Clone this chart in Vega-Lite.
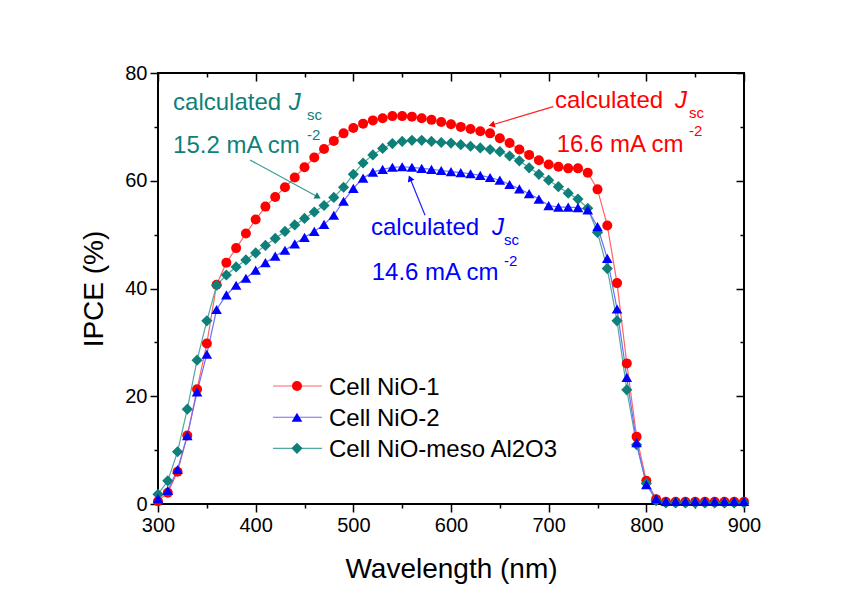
{
  "$schema": "https://vega.github.io/schema/vega-lite/v6.json",
  "width": 586,
  "height": 431,
  "autosize": {"type": "none"},
  "padding": {"left": 158, "top": 73, "right": 105, "bottom": 94},
  "background": "white",
  "config": {
    "font": "Liberation Sans",
    "view": {"stroke": "black", "strokeWidth": 2},
    "axis": {"grid": false, "domain": false, "tickColor": "black", "tickWidth": 1.5, "labelColor": "black", "labelFont": "Liberation Sans", "titleFont": "Liberation Sans", "titleColor": "black", "titleFontWeight": "normal"}
  },
  "datasets": {
    "ipce": [
      {"wavelength":300,"series":"Cell NiO-1","ipce":0.5},{"wavelength":310,"series":"Cell NiO-1","ipce":2.1},{"wavelength":320,"series":"Cell NiO-1","ipce":6.0},{"wavelength":330,"series":"Cell NiO-1","ipce":12.7},{"wavelength":340,"series":"Cell NiO-1","ipce":21.3},{"wavelength":350,"series":"Cell NiO-1","ipce":29.8},{"wavelength":360,"series":"Cell NiO-1","ipce":40.7},{"wavelength":370,"series":"Cell NiO-1","ipce":44.8},{"wavelength":380,"series":"Cell NiO-1","ipce":47.5},{"wavelength":390,"series":"Cell NiO-1","ipce":50.2},
      {"wavelength":400,"series":"Cell NiO-1","ipce":52.8},{"wavelength":410,"series":"Cell NiO-1","ipce":55.2},{"wavelength":420,"series":"Cell NiO-1","ipce":57.0},{"wavelength":430,"series":"Cell NiO-1","ipce":58.8},{"wavelength":440,"series":"Cell NiO-1","ipce":60.6},{"wavelength":450,"series":"Cell NiO-1","ipce":62.5},{"wavelength":460,"series":"Cell NiO-1","ipce":64.3},{"wavelength":470,"series":"Cell NiO-1","ipce":65.9},{"wavelength":480,"series":"Cell NiO-1","ipce":67.4},{"wavelength":490,"series":"Cell NiO-1","ipce":68.8},
      {"wavelength":500,"series":"Cell NiO-1","ipce":69.8},{"wavelength":510,"series":"Cell NiO-1","ipce":70.6},{"wavelength":520,"series":"Cell NiO-1","ipce":71.2},{"wavelength":530,"series":"Cell NiO-1","ipce":71.6},{"wavelength":540,"series":"Cell NiO-1","ipce":72.0},{"wavelength":550,"series":"Cell NiO-1","ipce":72.0},{"wavelength":560,"series":"Cell NiO-1","ipce":71.9},{"wavelength":570,"series":"Cell NiO-1","ipce":71.6},{"wavelength":580,"series":"Cell NiO-1","ipce":71.3},{"wavelength":590,"series":"Cell NiO-1","ipce":70.9},
      {"wavelength":600,"series":"Cell NiO-1","ipce":70.5},{"wavelength":610,"series":"Cell NiO-1","ipce":70.0},{"wavelength":620,"series":"Cell NiO-1","ipce":69.6},{"wavelength":630,"series":"Cell NiO-1","ipce":69.2},{"wavelength":640,"series":"Cell NiO-1","ipce":68.8},{"wavelength":650,"series":"Cell NiO-1","ipce":67.9},{"wavelength":660,"series":"Cell NiO-1","ipce":67.0},{"wavelength":670,"series":"Cell NiO-1","ipce":65.8},{"wavelength":680,"series":"Cell NiO-1","ipce":64.8},{"wavelength":690,"series":"Cell NiO-1","ipce":63.8},
      {"wavelength":700,"series":"Cell NiO-1","ipce":63.0},{"wavelength":710,"series":"Cell NiO-1","ipce":62.6},{"wavelength":720,"series":"Cell NiO-1","ipce":62.3},{"wavelength":730,"series":"Cell NiO-1","ipce":62.3},{"wavelength":740,"series":"Cell NiO-1","ipce":61.5},{"wavelength":750,"series":"Cell NiO-1","ipce":58.4},{"wavelength":760,"series":"Cell NiO-1","ipce":51.7},{"wavelength":770,"series":"Cell NiO-1","ipce":41.0},{"wavelength":780,"series":"Cell NiO-1","ipce":26.1},{"wavelength":790,"series":"Cell NiO-1","ipce":12.5},
      {"wavelength":800,"series":"Cell NiO-1","ipce":4.3},{"wavelength":810,"series":"Cell NiO-1","ipce":0.9},{"wavelength":820,"series":"Cell NiO-1","ipce":0.4},{"wavelength":830,"series":"Cell NiO-1","ipce":0.4},{"wavelength":840,"series":"Cell NiO-1","ipce":0.4},{"wavelength":850,"series":"Cell NiO-1","ipce":0.4},{"wavelength":860,"series":"Cell NiO-1","ipce":0.4},{"wavelength":870,"series":"Cell NiO-1","ipce":0.4},{"wavelength":880,"series":"Cell NiO-1","ipce":0.4},{"wavelength":890,"series":"Cell NiO-1","ipce":0.4},{"wavelength":900,"series":"Cell NiO-1","ipce":0.4},

      {"wavelength":300,"series":"Cell NiO-meso Al2O3","ipce":1.8},{"wavelength":310,"series":"Cell NiO-meso Al2O3","ipce":4.3},{"wavelength":320,"series":"Cell NiO-meso Al2O3","ipce":9.7},{"wavelength":330,"series":"Cell NiO-meso Al2O3","ipce":17.6},{"wavelength":340,"series":"Cell NiO-meso Al2O3","ipce":26.7},{"wavelength":350,"series":"Cell NiO-meso Al2O3","ipce":34.0},{"wavelength":360,"series":"Cell NiO-meso Al2O3","ipce":40.6},{"wavelength":370,"series":"Cell NiO-meso Al2O3","ipce":42.5},{"wavelength":380,"series":"Cell NiO-meso Al2O3","ipce":44.0},{"wavelength":390,"series":"Cell NiO-meso Al2O3","ipce":45.3},
      {"wavelength":400,"series":"Cell NiO-meso Al2O3","ipce":46.6},{"wavelength":410,"series":"Cell NiO-meso Al2O3","ipce":48.0},{"wavelength":420,"series":"Cell NiO-meso Al2O3","ipce":49.3},{"wavelength":430,"series":"Cell NiO-meso Al2O3","ipce":50.6},{"wavelength":440,"series":"Cell NiO-meso Al2O3","ipce":51.8},{"wavelength":450,"series":"Cell NiO-meso Al2O3","ipce":53.0},{"wavelength":460,"series":"Cell NiO-meso Al2O3","ipce":54.2},{"wavelength":470,"series":"Cell NiO-meso Al2O3","ipce":55.4},{"wavelength":480,"series":"Cell NiO-meso Al2O3","ipce":56.9},{"wavelength":490,"series":"Cell NiO-meso Al2O3","ipce":58.8},
      {"wavelength":500,"series":"Cell NiO-meso Al2O3","ipce":61.2},{"wavelength":510,"series":"Cell NiO-meso Al2O3","ipce":63.3},{"wavelength":520,"series":"Cell NiO-meso Al2O3","ipce":64.8},{"wavelength":530,"series":"Cell NiO-meso Al2O3","ipce":66.0},{"wavelength":540,"series":"Cell NiO-meso Al2O3","ipce":66.9},{"wavelength":550,"series":"Cell NiO-meso Al2O3","ipce":67.3},{"wavelength":560,"series":"Cell NiO-meso Al2O3","ipce":67.5},{"wavelength":570,"series":"Cell NiO-meso Al2O3","ipce":67.5},{"wavelength":580,"series":"Cell NiO-meso Al2O3","ipce":67.3},{"wavelength":590,"series":"Cell NiO-meso Al2O3","ipce":67.1},
      {"wavelength":600,"series":"Cell NiO-meso Al2O3","ipce":67.0},{"wavelength":610,"series":"Cell NiO-meso Al2O3","ipce":66.7},{"wavelength":620,"series":"Cell NiO-meso Al2O3","ipce":66.4},{"wavelength":630,"series":"Cell NiO-meso Al2O3","ipce":66.1},{"wavelength":640,"series":"Cell NiO-meso Al2O3","ipce":65.8},{"wavelength":650,"series":"Cell NiO-meso Al2O3","ipce":65.4},{"wavelength":660,"series":"Cell NiO-meso Al2O3","ipce":64.6},{"wavelength":670,"series":"Cell NiO-meso Al2O3","ipce":63.7},{"wavelength":680,"series":"Cell NiO-meso Al2O3","ipce":62.4},{"wavelength":690,"series":"Cell NiO-meso Al2O3","ipce":61.2},
      {"wavelength":700,"series":"Cell NiO-meso Al2O3","ipce":60.1},{"wavelength":710,"series":"Cell NiO-meso Al2O3","ipce":58.9},{"wavelength":720,"series":"Cell NiO-meso Al2O3","ipce":57.7},{"wavelength":730,"series":"Cell NiO-meso Al2O3","ipce":56.6},{"wavelength":740,"series":"Cell NiO-meso Al2O3","ipce":54.9},{"wavelength":750,"series":"Cell NiO-meso Al2O3","ipce":50.4},{"wavelength":760,"series":"Cell NiO-meso Al2O3","ipce":43.7},{"wavelength":770,"series":"Cell NiO-meso Al2O3","ipce":34.0},{"wavelength":780,"series":"Cell NiO-meso Al2O3","ipce":21.2},{"wavelength":790,"series":"Cell NiO-meso Al2O3","ipce":11.0},
      {"wavelength":800,"series":"Cell NiO-meso Al2O3","ipce":3.8},{"wavelength":810,"series":"Cell NiO-meso Al2O3","ipce":0.6},{"wavelength":820,"series":"Cell NiO-meso Al2O3","ipce":0.2},{"wavelength":830,"series":"Cell NiO-meso Al2O3","ipce":0.2},{"wavelength":840,"series":"Cell NiO-meso Al2O3","ipce":0.2},{"wavelength":850,"series":"Cell NiO-meso Al2O3","ipce":0.2},{"wavelength":860,"series":"Cell NiO-meso Al2O3","ipce":0.2},{"wavelength":870,"series":"Cell NiO-meso Al2O3","ipce":0.2},{"wavelength":880,"series":"Cell NiO-meso Al2O3","ipce":0.2},{"wavelength":890,"series":"Cell NiO-meso Al2O3","ipce":0.2},{"wavelength":900,"series":"Cell NiO-meso Al2O3","ipce":0.2},

      {"wavelength":300,"series":"Cell NiO-2","ipce":1.0},{"wavelength":310,"series":"Cell NiO-2","ipce":2.5},{"wavelength":320,"series":"Cell NiO-2","ipce":6.4},{"wavelength":330,"series":"Cell NiO-2","ipce":12.7},{"wavelength":340,"series":"Cell NiO-2","ipce":20.8},{"wavelength":350,"series":"Cell NiO-2","ipce":27.8},{"wavelength":360,"series":"Cell NiO-2","ipce":36.1},{"wavelength":370,"series":"Cell NiO-2","ipce":38.8},{"wavelength":380,"series":"Cell NiO-2","ipce":40.6},{"wavelength":390,"series":"Cell NiO-2","ipce":41.9},
      {"wavelength":400,"series":"Cell NiO-2","ipce":43.4},{"wavelength":410,"series":"Cell NiO-2","ipce":44.8},{"wavelength":420,"series":"Cell NiO-2","ipce":46.0},{"wavelength":430,"series":"Cell NiO-2","ipce":47.1},{"wavelength":440,"series":"Cell NiO-2","ipce":48.3},{"wavelength":450,"series":"Cell NiO-2","ipce":49.5},{"wavelength":460,"series":"Cell NiO-2","ipce":50.6},{"wavelength":470,"series":"Cell NiO-2","ipce":51.9},{"wavelength":480,"series":"Cell NiO-2","ipce":53.6},{"wavelength":490,"series":"Cell NiO-2","ipce":56.2},
      {"wavelength":500,"series":"Cell NiO-2","ipce":58.6},{"wavelength":510,"series":"Cell NiO-2","ipce":60.5},{"wavelength":520,"series":"Cell NiO-2","ipce":61.6},{"wavelength":530,"series":"Cell NiO-2","ipce":62.1},{"wavelength":540,"series":"Cell NiO-2","ipce":62.5},{"wavelength":550,"series":"Cell NiO-2","ipce":62.6},{"wavelength":560,"series":"Cell NiO-2","ipce":62.5},{"wavelength":570,"series":"Cell NiO-2","ipce":62.3},{"wavelength":580,"series":"Cell NiO-2","ipce":62.1},{"wavelength":590,"series":"Cell NiO-2","ipce":61.9},
      {"wavelength":600,"series":"Cell NiO-2","ipce":61.7},{"wavelength":610,"series":"Cell NiO-2","ipce":61.5},{"wavelength":620,"series":"Cell NiO-2","ipce":61.3},{"wavelength":630,"series":"Cell NiO-2","ipce":61.0},{"wavelength":640,"series":"Cell NiO-2","ipce":60.6},{"wavelength":650,"series":"Cell NiO-2","ipce":60.1},{"wavelength":660,"series":"Cell NiO-2","ipce":59.3},{"wavelength":670,"series":"Cell NiO-2","ipce":58.5},{"wavelength":680,"series":"Cell NiO-2","ipce":57.6},{"wavelength":690,"series":"Cell NiO-2","ipce":56.6},
      {"wavelength":700,"series":"Cell NiO-2","ipce":55.4},{"wavelength":710,"series":"Cell NiO-2","ipce":55.1},{"wavelength":720,"series":"Cell NiO-2","ipce":55.1},{"wavelength":730,"series":"Cell NiO-2","ipce":55.0},{"wavelength":740,"series":"Cell NiO-2","ipce":54.6},{"wavelength":750,"series":"Cell NiO-2","ipce":51.5},{"wavelength":760,"series":"Cell NiO-2","ipce":45.6},{"wavelength":770,"series":"Cell NiO-2","ipce":36.2},{"wavelength":780,"series":"Cell NiO-2","ipce":23.5},{"wavelength":790,"series":"Cell NiO-2","ipce":11.4},
      {"wavelength":800,"series":"Cell NiO-2","ipce":3.6},{"wavelength":810,"series":"Cell NiO-2","ipce":1.0},{"wavelength":820,"series":"Cell NiO-2","ipce":0.5},{"wavelength":830,"series":"Cell NiO-2","ipce":0.5},{"wavelength":840,"series":"Cell NiO-2","ipce":0.5},{"wavelength":850,"series":"Cell NiO-2","ipce":0.5},{"wavelength":860,"series":"Cell NiO-2","ipce":0.5},{"wavelength":870,"series":"Cell NiO-2","ipce":0.5},{"wavelength":880,"series":"Cell NiO-2","ipce":0.5},{"wavelength":890,"series":"Cell NiO-2","ipce":0.5},{"wavelength":900,"series":"Cell NiO-2","ipce":0.5}
    ],
    "legend": [
      {"series":"Cell NiO-1","x1":417.7,"x2":467.9,"xm":442.3,"xt":475.1,"y":21.9},
      {"series":"Cell NiO-2","x1":417.7,"x2":467.9,"xm":442.3,"xt":475.1,"y":16.1},
      {"series":"Cell NiO-meso Al2O3","x1":417.7,"x2":467.9,"xm":442.3,"xt":475.1,"y":10.34}
    ],
    "notes": [
      {"series":"Cell NiO-meso Al2O3","part":"main","label":"calculated ","x":315.4,"y":73.13},
      {"series":"Cell NiO-meso Al2O3","part":"J","label":"J","x":434.0,"y":73.13},
      {"series":"Cell NiO-meso Al2O3","part":"small","label":"sc","x":452.5,"y":71.28},
      {"series":"Cell NiO-meso Al2O3","part":"main","label":"15.2 mA cm","x":315.4,"y":65.15},
      {"series":"Cell NiO-meso Al2O3","part":"small","label":"-2","x":452.6,"y":67.6},
      {"series":"Cell NiO-1","part":"main","label":"calculated ","x":706.5,"y":73.45},
      {"series":"Cell NiO-1","part":"J","label":"J","x":829.3,"y":73.45},
      {"series":"Cell NiO-1","part":"small","label":"sc","x":843.6,"y":71.65},
      {"series":"Cell NiO-1","part":"main","label":"16.6 mA cm","x":708.2,"y":65.39},
      {"series":"Cell NiO-1","part":"small","label":"-2","x":843.7,"y":68.3},
      {"series":"Cell NiO-2","part":"main","label":"calculated ","x":518.1,"y":49.93},
      {"series":"Cell NiO-2","part":"J","label":"J","x":642.0,"y":49.93},
      {"series":"Cell NiO-2","part":"small","label":"sc","x":654.2,"y":48.07},
      {"series":"Cell NiO-2","part":"main","label":"14.6 mA cm","x":518.8,"y":41.58},
      {"series":"Cell NiO-2","part":"small","label":"-2","x":654.3,"y":44.2}
    ],
    "arrows": [
      {"series":"Cell NiO-meso Al2O3","x":394.2,"y":63.85,"x2":463.8,"y2":57.0,"dir":118.6},
      {"series":"Cell NiO-1","x":704.7,"y":73.75,"x2":641.7,"y2":70.35,"dir":253.6},
      {"series":"Cell NiO-2","x":573.4,"y":53.6,"x2":558.0,"y2":60.45,"dir":338}
    ]
  },
  "resolve": {"axis": {"x": "independent", "y": "independent"}},
  "layer": [
    {
      "data": {"name": "ipce"},
      "mark": {"type": "line", "strokeWidth": 1.2},
      "encoding": {
        "x": {"field": "wavelength", "type": "quantitative", "scale": {"domain": [300, 900], "nice": false, "zero": false},
              "axis": {"orient": "bottom", "values": [300,400,500,600,700,800,900], "tickSize": 8, "labelFontSize": 20, "labelPadding": 3, "labelFlush": false, "labelOverlap": false, "title": "Wavelength (nm)", "titleFontSize": 28, "titlePadding": 20}},
        "y": {"field": "ipce", "type": "quantitative", "scale": {"domain": [0, 80], "nice": false, "zero": false},
              "axis": {"orient": "left", "values": [0,20,40,60,80], "tickSize": 8, "labelFontSize": 20, "labelPadding": 3, "labelFlush": false, "labelOverlap": false, "title": "IPCE (%)", "titleFontSize": 28, "titlePadding": 16}},
        "color": {"field": "series", "type": "nominal", "legend": null,
                  "scale": {"domain": ["Cell NiO-1","Cell NiO-2","Cell NiO-meso Al2O3"], "range": ["#FF6464","#6E6EFF","#52A9A2"]}}
      }
    },
    {
      "data": {"name": "ipce"},
      "mark": {"type": "point", "filled": true, "opacity": 1, "strokeWidth": 0},
      "encoding": {
        "x": {"field": "wavelength", "type": "quantitative", "axis": {"orient": "bottom", "values": [350,450,550,650,750,850], "tickSize": 4, "labels": false, "title": null}},
        "y": {"field": "ipce", "type": "quantitative", "axis": {"orient": "left", "values": [10,30,50,70], "tickSize": 4, "labels": false, "title": null}},
        "fill": {"field": "series", "type": "nominal", "legend": null,
                 "scale": {"domain": ["Cell NiO-1","Cell NiO-2","Cell NiO-meso Al2O3"], "range": ["#FF0000","#0000FF","#0F7F79"]}},
        "shape": {"field": "series", "type": "nominal", "legend": null,
                  "scale": {"domain": ["Cell NiO-1","Cell NiO-2","Cell NiO-meso Al2O3"], "range": ["circle","triangle-up","diamond"]}},
        "size": {"field": "series", "type": "ordinal", "legend": null,
                 "scale": {"domain": ["Cell NiO-1","Cell NiO-2","Cell NiO-meso Al2O3"], "range": [100, 125, 140]}}
      }
    },
    {
      "data": {"name": "legend"},
      "mark": {"type": "rule", "strokeWidth": 1.2},
      "encoding": {
        "x": {"field": "x1", "type": "quantitative", "axis": {"orient": "top", "values": [300,400,500,600,700,800,900], "tickSize": 8, "offset": -8, "labels": false, "title": null}},
        "x2": {"field": "x2"},
        "y": {"field": "y", "type": "quantitative", "axis": {"orient": "right", "values": [0,20,40,60,80], "tickSize": 8, "offset": -8, "labels": false, "title": null}},
        "color": {"field": "series", "type": "nominal", "legend": null}
      }
    },
    {
      "data": {"name": "legend"},
      "mark": {"type": "point", "filled": true, "opacity": 1, "strokeWidth": 0},
      "encoding": {
        "x": {"field": "xm", "type": "quantitative", "axis": {"orient": "top", "values": [350,450,550,650,750,850], "tickSize": 4, "offset": -4, "labels": false, "title": null}},
        "y": {"field": "y", "type": "quantitative", "axis": {"orient": "right", "values": [10,30,50,70], "tickSize": 4, "offset": -4, "labels": false, "title": null}},
        "fill": {"field": "series", "type": "nominal", "legend": null},
        "shape": {"field": "series", "type": "nominal", "legend": null},
        "size": {"field": "series", "type": "ordinal", "legend": null}
      }
    },
    {
      "data": {"name": "legend"},
      "mark": {"type": "text", "align": "left", "baseline": "middle", "fontSize": 24, "color": "black", "dy": 2},
      "encoding": {
        "x": {"field": "xt", "type": "quantitative", "axis": null},
        "y": {"field": "y", "type": "quantitative", "axis": null},
        "text": {"field": "series"}
      }
    },
    {
      "data": {"name": "arrows"},
      "mark": {"type": "rule", "strokeWidth": 1.2},
      "encoding": {
        "x": {"field": "x", "type": "quantitative", "axis": null},
        "y": {"field": "y", "type": "quantitative", "axis": null},
        "x2": {"field": "x2"},
        "y2": {"field": "y2"},
        "stroke": {"field": "series", "type": "nominal", "legend": null,
                   "scale": {"domain": ["Cell NiO-1","Cell NiO-2","Cell NiO-meso Al2O3"], "range": ["#FF2020","#2020FF","#3A9A94"]}}
      }
    },
    {
      "data": {"name": "arrows"},
      "mark": {"type": "point", "shape": "triangle-up", "filled": true, "opacity": 1, "strokeWidth": 0, "size": 50},
      "encoding": {
        "x": {"field": "x2", "type": "quantitative", "axis": null},
        "y": {"field": "y2", "type": "quantitative", "axis": null},
        "angle": {"field": "dir", "type": "quantitative", "scale": null},
        "fill": {"field": "series", "type": "nominal", "legend": null}
      }
    },
    {
      "data": {"name": "notes"},
      "transform": [{"filter": "datum.part === 'main'"}],
      "mark": {"type": "text", "align": "left", "baseline": "alphabetic", "fontSize": 24},
      "encoding": {
        "x": {"field": "x", "type": "quantitative", "axis": null},
        "y": {"field": "y", "type": "quantitative", "axis": null},
        "text": {"field": "label"},
        "fill": {"field": "series", "type": "nominal", "legend": null}
      }
    },
    {
      "data": {"name": "notes"},
      "transform": [{"filter": "datum.part === 'J'"}],
      "mark": {"type": "text", "align": "left", "baseline": "alphabetic", "fontSize": 24, "fontStyle": "italic"},
      "encoding": {
        "x": {"field": "x", "type": "quantitative", "axis": null},
        "y": {"field": "y", "type": "quantitative", "axis": null},
        "text": {"field": "label"},
        "fill": {"field": "series", "type": "nominal", "legend": null}
      }
    },
    {
      "data": {"name": "notes"},
      "transform": [{"filter": "datum.part === 'small'"}],
      "mark": {"type": "text", "align": "left", "baseline": "alphabetic", "fontSize": 15},
      "encoding": {
        "x": {"field": "x", "type": "quantitative", "axis": null},
        "y": {"field": "y", "type": "quantitative", "axis": null},
        "text": {"field": "label"},
        "fill": {"field": "series", "type": "nominal", "legend": null}
      }
    }
  ]
}
